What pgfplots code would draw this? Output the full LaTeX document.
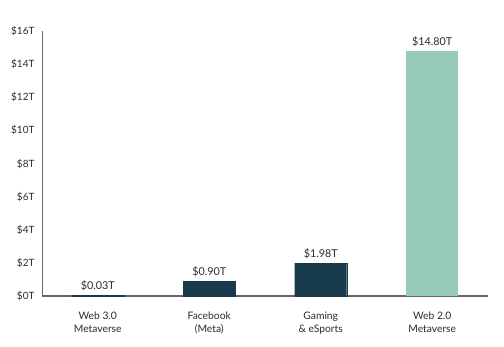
\documentclass[border=0pt]{standalone}
\usepackage{pgfplots}
\pgfplotsset{compat=1.18}
\usepackage{fontspec}
\setmainfont{Lato}
\definecolor{navy}{HTML}{173B4C}
\definecolor{teal}{HTML}{98CBB9}
\definecolor{txt}{HTML}{2B2B2B}
\definecolor{axisgray}{HTML}{666666}
\begin{document}
\begin{tikzpicture}[x=1pt,y=1pt]
\begin{axis}[
  scale only axis,
  width=446pt, height=265pt,
  xmin=-0.5, xmax=3.5,
  ymin=0, ymax=16,
  axis lines*=left,
  axis line style={axisgray, line width=0.9pt},
  x axis line style={line width=1.4pt},
  ytick={0,2,...,16},
  yticklabel={\$\pgfmathprintnumber{\tick}T},
  /pgf/number format/assume math mode=true,
  yticklabel style={font=\fontsize{10}{11}\selectfont, text=txt, xshift=-4pt},
  major tick length=0pt,
  tick style={draw=none},
  xtick={0,1,2,3},
  xticklabels={{Web 3.0\\Metaverse},{Facebook\\(Meta)},{Gaming\\\& eSports},{Web 2.0\\Metaverse}},
  xticklabel style={font=\fontsize{10.3}{13}\selectfont, text=txt, align=center, yshift=-12pt},
  ybar, bar width=52pt, bar shift=0pt,
  nodes near coords={\$\pgfmathprintnumber[fixed,fixed zerofill,precision=2]{\pgfplotspointmeta}T},
  nodes near coords style={font=\fontsize{10.8}{12}\selectfont, text=txt, /pgf/number format/assume math mode=true, yshift=1pt},
  clip=false,
]
\addplot[fill=navy, draw=navy, line width=0.4pt] coordinates {(0,0.03) (1,0.90) (2,1.98)};
\addplot[fill=teal, draw=none] coordinates {(3,14.80)};
\end{axis}
\path (current axis.south west) ++(-42pt,-50pt) rectangle ++(504pt,346pt);
\end{tikzpicture}
\end{document}
